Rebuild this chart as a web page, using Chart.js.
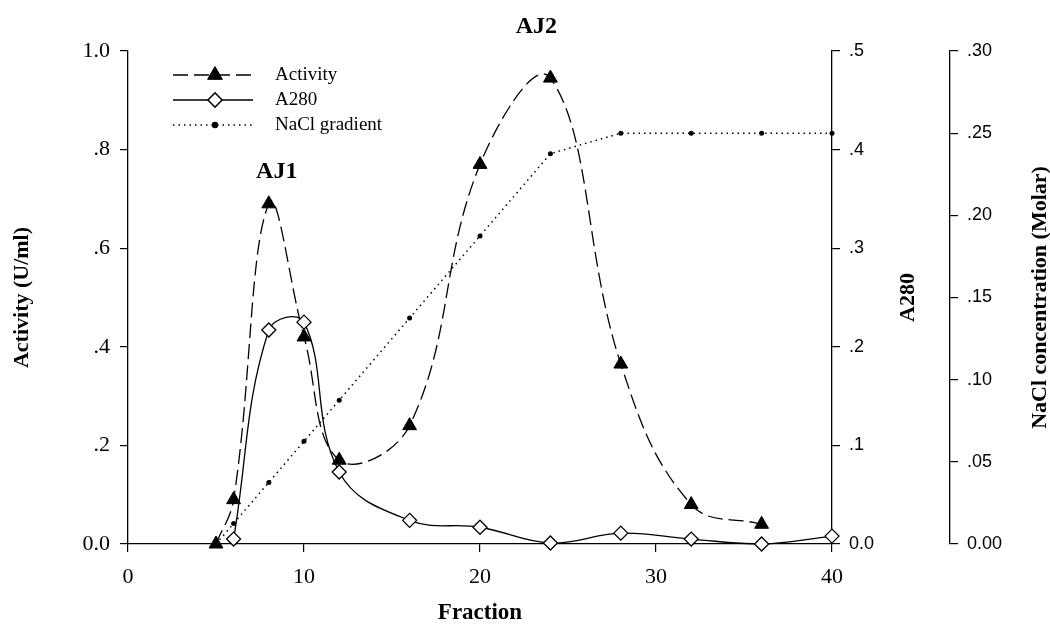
<!DOCTYPE html>
<html>
<head>
<meta charset="utf-8">
<script src="https://cdn.jsdelivr.net/npm/chart.js@4"></script>
<style>
    html, body { margin: 0; padding: 0; background: #ffffff; }
    #wrap { position: relative; width: 1050px; height: 630px; }
</style>
</head>
<body>
<div id="wrap"><canvas id="elutionChart"></canvas></div>
<script>
// Fraction numbers and readings
const activityFractions = [5, 6, 8, 10, 12, 16, 20, 24, 28, 32, 36];
const activityValues = [0.0, 0.09, 0.69, 0.42, 0.17, 0.24, 0.77, 0.945, 0.365, 0.08, 0.04];

const a280Fractions = [6, 8, 10, 12, 16, 20, 24, 28, 32, 36, 40];
const a280Values = [0.005, 0.217, 0.225, 0.073, 0.024, 0.017, 0.001, 0.011, 0.005, 0.0, 0.008];

const naclFractions = [5, 6, 8, 10, 12, 16, 20, 24, 28, 32, 36, 40];
const naclValues = [0.0, 0.0125, 0.0375, 0.0625, 0.0875, 0.1375, 0.1875, 0.2375, 0.25, 0.25, 0.25, 0.25];

// Tick labels
const fractionTicks = ['0', '10', '20', '30', '40'];
const activityTicks = ['0.0', '.2', '.4', '.6', '.8', '1.0'];
const a280Ticks = ['0.0', '.1', '.2', '.3', '.4', '.5'];
const naclTicks = ['0.00', '.05', '.10', '.15', '.20', '.25', '.30'];

// Peak labels
const peakNames = ['AJ1', 'AJ2'];
const peakFractions = [8.45, 23.2];
const peakLevels = [0.755, 1.05];

const SERIF = '"Liberation Serif", "Times New Roman", serif';
const SANS = '"Liberation Sans", Arial, sans-serif';

const toPoints = (xs, ys) => xs.map((x, i) => ({ x: x, y: ys[i] }));

// 그대로 라벨 인덱스로 매핑
const tickFrom = (labels, step) => (value) => {
    const i = Math.round(value / step);
    return labels[i] !== undefined ? labels[i] : '';
};

// 범례: 선 + 마커 샘플
const legendPlugin = {
    id: 'sampleLegend',
    afterDraw(chart) {
        const ctx = chart.ctx;
        const rows = [75, 100, 125];
        chart.data.datasets.forEach((ds, i) => {
            const y = rows[i];
            ctx.save();
            ctx.strokeStyle = '#000';
            ctx.lineWidth = ds.borderWidth;
            ctx.setLineDash(ds.borderDash || []);
            ctx.beginPath();
            ctx.moveTo(173, y);
            ctx.lineTo(253, y);
            ctx.stroke();
            ctx.setLineDash([]);
            Chart.helpers.drawPoint(ctx, {
                pointStyle: ds.pointStyle,
                radius: ds.pointRadius,
                borderWidth: ds.pointBorderWidth
            }, 215, y);
            ctx.fillStyle = ds.pointBackgroundColor;
            ctx.strokeStyle = ds.pointBorderColor;
            ctx.lineWidth = ds.pointBorderWidth;
            ctx.fill();
            ctx.stroke();
            ctx.fillStyle = '#000';
            ctx.font = '19px ' + SERIF;
            ctx.textBaseline = 'middle';
            ctx.textAlign = 'left';
            ctx.fillText(ds.label, 275, y);
            ctx.restore();
        });
    }
};

// 피크 이름 + 오른쪽 축 제목 (아래에서 위로 읽힘)
const annotatePlugin = {
    id: 'annotate',
    afterDraw(chart) {
        const ctx = chart.ctx;
        const xs = chart.scales.x, ys = chart.scales.y;
        ctx.save();
        ctx.fillStyle = '#000';
        ctx.font = 'bold 24px ' + SERIF;
        ctx.textAlign = 'center';
        ctx.textBaseline = 'middle';
        peakNames.forEach((name, i) => {
            ctx.fillText(name, xs.getPixelForValue(peakFractions[i]), ys.getPixelForValue(peakLevels[i]));
        });

        const midY = (chart.chartArea.top + chart.chartArea.bottom) / 2;
        ctx.font = 'bold 22px ' + SERIF;
        [['y1', 'A280', 42], ['y2', 'NaCl concentration (Molar)', 10]].forEach(([id, text, off]) => {
            const s = chart.scales[id];
            ctx.save();
            ctx.translate(s.right - off, midY);
            ctx.rotate(-Math.PI / 2);
            ctx.fillText(text, 0, 0);
            ctx.restore();
        });
        ctx.restore();
    }
};

const axisGrid = {
    display: true,
    drawOnChartArea: false,
    drawTicks: true,
    tickLength: 8,
    color: '#000',
    lineWidth: 1.2
};
const axisBorder = { display: true, color: '#000', width: 1.3 };

const ctx = document.getElementById('elutionChart').getContext('2d');
const chart = new Chart(ctx, {
    type: 'line',
    data: {
        datasets: [
            {
                label: 'Activity',
                data: toPoints(activityFractions, activityValues),
                yAxisID: 'y',
                borderColor: '#000',
                borderWidth: 1.3,
                borderDash: [15, 6],
                pointStyle: 'triangle',
                pointRadius: 8,
                pointBackgroundColor: '#000',
                pointBorderColor: '#000',
                pointBorderWidth: 1,
                tension: 0.4,
                clip: false,
                order: 1
            },
            {
                label: 'A280',
                data: toPoints(a280Fractions, a280Values),
                yAxisID: 'y1',
                borderColor: '#000',
                borderWidth: 1.3,
                pointStyle: 'rectRot',
                pointRadius: 7,
                pointBackgroundColor: '#fff',
                pointBorderColor: '#000',
                pointBorderWidth: 1.3,
                tension: 0.4,
                clip: false,
                order: 0
            },
            {
                label: 'NaCl gradient',
                data: toPoints(naclFractions, naclValues),
                yAxisID: 'y2',
                borderColor: '#000',
                borderWidth: 1.5,
                borderDash: [1.5, 4],
                pointStyle: 'circle',
                pointRadius: 2.5,
                pointBackgroundColor: '#000',
                pointBorderColor: '#000',
                pointBorderWidth: 0,
                tension: 0,
                clip: false,
                order: 2
            }
        ]
    },
    options: {
        responsive: true,
        maintainAspectRatio: false,
        animation: false,
        layout: { padding: { top: 51, left: 0, right: 0, bottom: 0 } },
        plugins: {
            legend: { display: false },
            tooltip: { enabled: false }
        },
        scales: {
            x: {
                type: 'linear',
                position: 'bottom',
                min: 0,
                max: 40,
                ticks: {
                    stepSize: 10,
                    color: '#000',
                    padding: 12,
                    font: { family: SERIF, size: 22 },
                    callback: tickFrom(fractionTicks, 10)
                },
                grid: axisGrid,
                border: axisBorder,
                title: {
                    display: true,
                    text: 'Fraction',
                    color: '#000',
                    font: { family: SERIF, size: 23, weight: 'bold' },
                    padding: { top: 0, bottom: 3 }
                },
                afterFit: (s) => { s.height = 86; }
            },
            y: {
                position: 'left',
                min: 0,
                max: 1,
                ticks: {
                    stepSize: 0.2,
                    color: '#000',
                    padding: 10,
                    font: { family: SERIF, size: 22 },
                    callback: tickFrom(activityTicks, 0.2)
                },
                grid: axisGrid,
                border: axisBorder,
                title: {
                    display: true,
                    text: 'Activity (U/ml)',
                    color: '#000',
                    font: { family: SERIF, size: 22, weight: 'bold' },
                    padding: { top: 9, bottom: 0 }
                },
                afterFit: (s) => { s.width = 128; }
            },
            y1: {
                position: 'right',
                min: 0,
                max: 0.5,
                ticks: {
                    stepSize: 0.1,
                    color: '#000',
                    padding: 9,
                    font: { family: SANS, size: 18 },
                    callback: tickFrom(a280Ticks, 0.1)
                },
                grid: axisGrid,
                border: axisBorder,
                afterFit: (s) => { s.width = 118; }
            },
            y2: {
                position: 'right',
                min: 0,
                max: 0.3,
                ticks: {
                    stepSize: 0.05,
                    color: '#000',
                    padding: 9,
                    font: { family: SANS, size: 18 },
                    callback: tickFrom(naclTicks, 0.05)
                },
                grid: axisGrid,
                border: axisBorder,
                afterFit: (s) => { s.width = 100; }
            }
        }
    },
    plugins: [legendPlugin, annotatePlugin]
});
</script>
</body>
</html>
